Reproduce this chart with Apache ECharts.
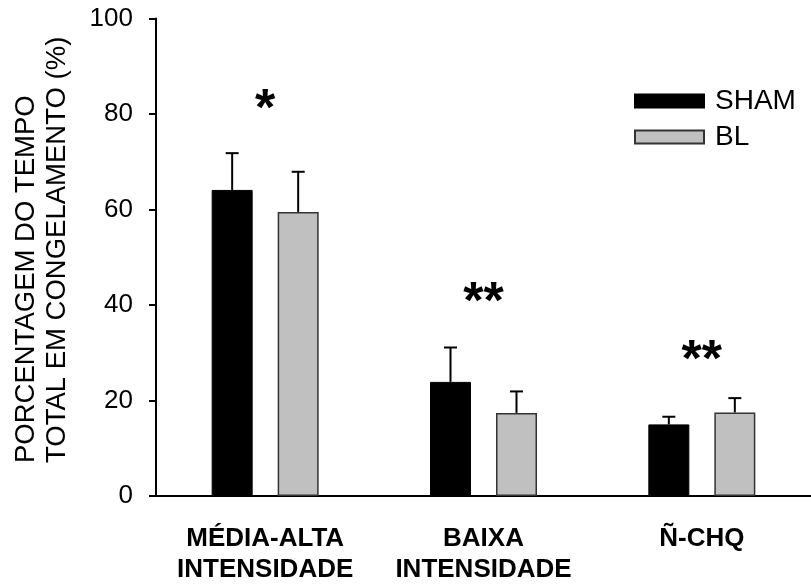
<!DOCTYPE html>
<html>
<head>
<meta charset="utf-8">
<script src="https://cdn.jsdelivr.net/npm/echarts@6/dist/echarts.min.js"></script>
<style>html,body{margin:0;padding:0;background:#fff}#c{width:811px;height:585px}</style>
</head>
<body>
<div id="c"></div>
<script>
var categories = ['MÉDIA-ALTA\nINTENSIDADE', 'BAIXA\nINTENSIDADE', 'Ñ-CHQ'];
var shamMean = [64.1, 23.9, 15.0];
var shamErr = [7.7, 7.2, 1.6];
var blMean = [59.5, 17.4, 17.5];
var blErr = [8.4, 4.5, 3.0];
var starLabels = ['*', '**', '**'];
var starY = [80.6, 40.3, 28.2];
var yTicks = [0, 20, 40, 60, 80, 100];

var FONT = "'Liberation Sans', Arial, sans-serif";
var BAR_W = 41, BAR_GAP = 25;
var OFF = (BAR_W + BAR_GAP) / 2;

function errRender(mean, err, sign) {
  return function (params, api) {
    var i = api.value(0);
    var top = api.coord([i, mean[i] + err[i]]);
    var base = api.coord([i, mean[i]]);
    var x = top[0] + sign * OFF;
    var cap = 6.5;
    return {
      type: 'group',
      children: [
        {type: 'line', shape: {x1: x, y1: base[1], x2: x, y2: top[1]}, style: {stroke: '#000', lineWidth: 2}},
        {type: 'line', shape: {x1: x - cap, y1: top[1], x2: x + cap, y2: top[1]}, style: {stroke: '#000', lineWidth: 2}}
      ]
    };
  };
}

var chart = echarts.init(document.getElementById('c'));
chart.setOption({
  animation: false,
  backgroundColor: '#fff',
  grid: {left: 156, right: -8, top: 18.5, bottom: 89, containLabel: false},
  legend: {
    orient: 'vertical', left: 629, top: 82, icon: 'rect',
    itemWidth: 69, itemHeight: 13, itemGap: 8,
    data: ['SHAM', 'BL'],
    textStyle: {fontFamily: FONT, fontSize: 28, color: '#000', padding: [0, 0, 0, 6]}
  },
  xAxis: {
    type: 'category', data: categories,
    axisLine: {lineStyle: {color: '#000', width: 2}},
    axisTick: {alignWithLabel: true, length: 7, lineStyle: {color: '#000', width: 2}},
    axisLabel: {fontFamily: FONT, fontSize: 26, fontWeight: 'bold', color: '#000', lineHeight: 31, margin: 27, interval: 0}
  },
  yAxis: {
    type: 'value', min: 0, max: 100, interval: 20,
    splitLine: {show: false},
    axisLine: {show: true, lineStyle: {color: '#000', width: 2}},
    axisTick: {show: true, length: 7, lineStyle: {color: '#000', width: 2}},
    axisLabel: {fontFamily: FONT, fontSize: 26, color: '#000', margin: 23,
      formatter: function (v) { return yTicks.indexOf(v) >= 0 ? String(v) : ''; }}
  },
  graphic: [{
    type: 'text', x: 11, y: 463, rotation: Math.PI / 2,
    style: {text: 'PORCENTAGEM DO TEMPO\nTOTAL EM CONGELAMENTO (%)', font: "27.5px 'Liberation Sans', Arial, sans-serif",
      fill: '#000', textAlign: 'left', textVerticalAlign: 'top', lineHeight: 31}
  }],
  series: [
    {name: 'SHAM', type: 'bar', data: shamMean, barWidth: BAR_W, barGap: (BAR_GAP / BAR_W * 100) + '%',
      itemStyle: {color: '#000', borderColor: '#000', borderWidth: 1}},
    {name: 'BL', type: 'bar', data: blMean, barWidth: BAR_W,
      itemStyle: {color: '#c0c0c0', borderColor: '#333', borderWidth: 1.5}},
    {type: 'custom', renderItem: errRender(shamMean, shamErr, -1), data: shamMean.map(function (v, i) { return [i, v]; }), z: 3, silent: true},
    {type: 'custom', renderItem: errRender(blMean, blErr, 1), data: blMean.map(function (v, i) { return [i, v]; }), z: 3, silent: true},
    {type: 'scatter', symbolSize: 0, silent: true, itemStyle: {opacity: 1, color: '#000'},
      data: starY.map(function (v, i) { return [i, v]; }),
      label: {show: true, position: 'inside', fontFamily: FONT, fontWeight: 'bold', fontSize: 52, color: '#000',
        textBorderWidth: 0, opacity: 1,
        formatter: function (p) { return starLabels[p.dataIndex]; }}}
  ]
});
</script>
</body>
</html>
